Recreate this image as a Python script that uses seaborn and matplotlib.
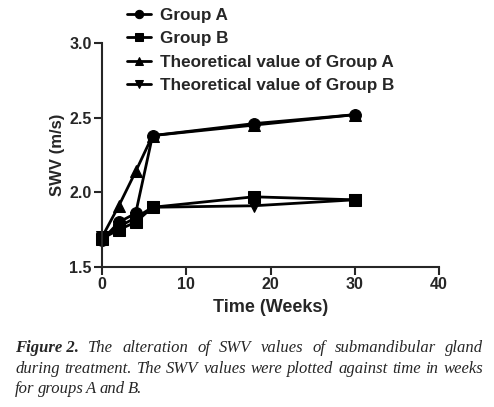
import matplotlib
matplotlib.use("Agg")
import matplotlib.pyplot as plt
import seaborn as sns
import pandas as pd

weeks = [0, 2, 4, 6, 18, 30]
group_a = [1.68, 1.80, 1.86, 2.38, 2.46, 2.52]
group_b = [1.69, 1.75, 1.80, 1.90, 1.97, 1.95]
theo_a = [1.70, 1.91, 2.14, 2.38, 2.45, 2.52]
theo_b = [1.70, 1.77, 1.83, 1.90, 1.91, 1.95]
series_names = ["Group A", "Group B", "Theoretical value of Group A", "Theoretical value of Group B"]
x_ticks = [0, 10, 20, 30, 40]
y_ticks = [1.5, 2.0, 2.5, 3.0]

rows = []
for name, vals in zip(series_names, [group_a, group_b, theo_a, theo_b]):
    for w, v in zip(weeks, vals):
        rows.append({"Time": w, "SWV": v, "Series": name})
df = pd.DataFrame(rows)

sns.set_style("ticks")
plt.rcParams['font.family'] = ['Liberation Sans', 'DejaVu Sans']

fig = plt.figure(figsize=(4.94, 4.07), dpi=100)
ax = fig.add_axes([102/494, 1-267/407, 337/494, 224/407])

markers = {"Group A": "o", "Group B": "s",
           "Theoretical value of Group A": "^", "Theoretical value of Group B": "v"}
sns.lineplot(data=df, x="Time", y="SWV", style="Series", markers=markers, dashes=False,
             color="black", linewidth=2, markersize=8.5, markeredgecolor="black",
             ax=ax, legend=True, sort=False)

ax.set_xlim(0, 40)
ax.set_ylim(1.5, 3.0)
ax.set_xticks(x_ticks)
ax.set_yticks(y_ticks)
ax.set_xticklabels([str(t) for t in x_ticks], fontweight="bold", fontsize=11.5)
ax.set_yticklabels([f"{t:.1f}" for t in y_ticks], fontweight="bold", fontsize=11.5)
ax.set_xlabel("Time (Weeks)", fontweight="bold", fontsize=13, labelpad=5)
ax.set_ylabel("SWV (m/s)", fontweight="bold", fontsize=12, labelpad=3)
for s in ["top", "right"]:
    ax.spines[s].set_visible(False)
for s in ["left", "bottom"]:
    ax.spines[s].set_linewidth(1.5)
ax.tick_params(width=1.5, length=6, pad=1.5)
for line in ax.lines:
    line.set_clip_on(False)

handles, labels = ax.get_legend_handles_labels()
ax.get_legend().remove()
leg = fig.legend(handles, labels, loc="upper left", bbox_to_anchor=(116/494, 1.0 + 3/407),
                 frameon=False, prop={"weight": "bold", "size": 12.3},
                 handlelength=1.4, labelspacing=0.48, handletextpad=0.55, borderpad=0.15)
for h in leg.legend_handles:
    h.set_markersize(6)
    h.set_linewidth(2)

# caption, justified
cap_lines = [
    ("Figure 2.", " The alteration of SWV values of submandibular gland", True),
    ("", "during treatment. The SWV values were plotted against time in weeks", True),
    ("", "for groups A and B.", False),
]
left_px, right_px = 15, 483
ys = [348, 369, 389]
fig.canvas.draw()
renderer = fig.canvas.get_renderer()
cap_font = dict(family="Liberation Serif", style="italic", fontsize=12)
for (bold_part, rest, justify), ypx in zip(cap_lines, ys):
    words = []
    if bold_part:
        words.append((bold_part, "bold"))
    words += [(w, "normal") for w in rest.split()]
    texts = []
    for w, wt in words:
        t = fig.text(0, 1 - ypx/407, w, fontweight=wt, va="center", ha="left", **cap_font)
        texts.append(t)
    widths = [t.get_window_extent(renderer).width for t in texts]
    total = sum(widths)
    if justify:
        gap = (right_px - left_px - total) / (len(texts) - 1)
    else:
        gap = 3.0
    x = left_px
    for t, wd in zip(texts, widths):
        t.set_x(x / 494)
        x += wd + gap

fig.savefig("out.png", dpi=100)
